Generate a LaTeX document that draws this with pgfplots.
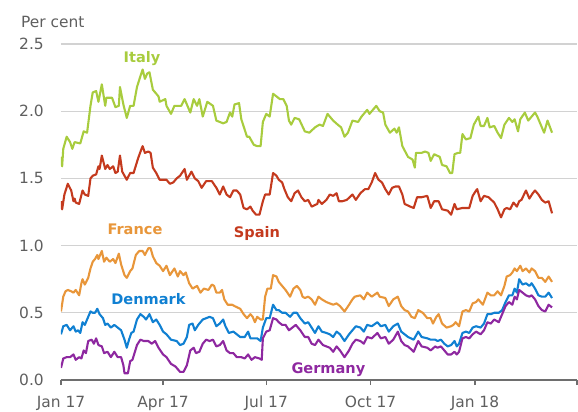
\documentclass[border=0pt]{standalone}
\usepackage{pgfplots}
\pgfplotsset{compat=1.18}
\usepackage{fontspec}
\setmainfont{DejaVu Sans}
\definecolor{italy}{RGB}{168,204,62}
\definecolor{spain}{RGB}{196,58,30}
\definecolor{france}{RGB}{232,150,58}
\definecolor{denmark}{RGB}{16,128,210}
\definecolor{germany}{RGB}{142,40,160}
\definecolor{tickgrey}{RGB}{95,95,95}
\definecolor{axisgrey}{RGB}{110,110,110}
\definecolor{gridgrey}{RGB}{210,210,210}
\begin{document}
\begin{tikzpicture}
\begin{axis}[
  at={(0,0)}, anchor=south west,
  scale only axis, width=516bp, height=336bp,
  xmin=0, xmax=455, ymin=0, ymax=2.5,
  axis lines*=left,
  y axis line style={draw=none},
  x axis line style={draw=axisgrey, line width=1.2bp},
  xtick={0,90,181,273,365,455},
  xticklabels={Jan 17,Apr 17,Jul 17,Oct 17,Jan 18,{}},
  xtick align=outside,
  major tick length=5bp,
  xtick style={draw=axisgrey, line width=1.2bp},
  ytick={0,0.5,1,1.5,2,2.5},
  ytick style={draw=none},
  ymajorgrids,
  grid style={draw=gridgrey, line width=1.1bp},
  /pgf/number format/assume math mode=true,
  yticklabel style={/pgf/number format/fixed,/pgf/number format/fixed zerofill,/pgf/number format/precision=1, anchor=east, inner sep=0pt, xshift=-17bp, font=\fontsize{15.5}{18}\selectfont, text=tickgrey},
  xticklabel style={anchor=base, inner sep=0pt, yshift=-22bp, font=\fontsize{15.5}{18}\selectfont, text=tickgrey},
  every axis plot/.append style={line width=2.1bp, line join=round},
]
% Italy
\addplot[italy, no markers] coordinates {(0,1.66)(1,1.59)(2,1.72)(5,1.81)(8,1.77)(10,1.72)(12,1.77)(17,1.76)(20,1.85)(23,1.84)(26,2.04)(28,2.14)(31,2.15)(33,2.07)(36,2.20)(39,2.04)(40,2.10)(45,2.10)(48,2.03)(51,2.04)(52,2.18)(55,2.05)(58,1.95)(61,2.04)(64,2.04)(67,2.18)(70,2.26)(72,2.31)(74,2.24)(76,2.28)(78,2.29)(81,2.16)(86,2.11)(87,2.07)(92,2.09)(93,2.04)(97,1.98)(100,2.04)(106,2.04)(109,2.09)(114,1.99)(117,2.09)(120,2.04)(122,2.09)(125,1.96)(129,2.07)(134,2.04)(137,1.93)(143,1.91)(146,1.92)(149,1.99)(151,1.96)(153,2.05)(157,2.06)(159,1.94)(164,1.81)(166,1.81)(170,1.75)(173,1.74)(176,1.74)(178,1.92)(181,1.98)(184,1.96)(187,2.13)(190,2.11)(193,2.09)(196,2.09)(199,2.04)(201,1.93)(203,1.90)(206,1.95)(210,1.94)(215,1.85)(219,1.84)(224,1.88)(228,1.90)(231,1.89)(235,1.98)(240,1.93)(244,1.90)(247,1.88)(250,1.81)(253,1.84)(257,1.93)(262,1.92)(265,1.96)(270,2.01)(272,1.98)(278,2.04)(281,2.00)(284,1.99)(286,1.90)(290,1.84)(294,1.87)(296,1.84)(298,1.88)(301,1.74)(306,1.66)(310,1.64)(312,1.58)(313,1.69)(318,1.69)(321,1.70)(324,1.69)(326,1.63)(329,1.68)(334,1.66)(336,1.60)(340,1.59)(343,1.54)(345,1.54)(347,1.68)(350,1.69)(352,1.69)(354,1.83)(357,1.79)(361,1.80)(364,1.90)(368,1.96)(370,1.89)(373,1.89)(376,1.95)(378,1.88)(382,1.89)(385,1.84)(388,1.80)(391,1.90)(395,1.95)(398,1.92)(400,1.94)(403,1.85)(405,1.94)(409,1.99)(412,1.93)(418,1.99)(420,1.96)(426,1.84)(429,1.93)(433,1.84)};
% Spain
\addplot[spain, no markers] coordinates {(0,1.33)(1,1.27)(3,1.38)(6,1.46)(9,1.41)(11,1.33)(12,1.35)(13,1.32)(16,1.31)(19,1.41)(21,1.38)(24,1.37)(26,1.50)(28,1.52)(31,1.53)(33,1.59)(34,1.57)(36,1.67)(39,1.57)(41,1.60)(43,1.57)(46,1.59)(48,1.54)(50,1.55)(52,1.67)(54,1.55)(58,1.49)(61,1.54)(64,1.54)(68,1.65)(71,1.72)(72,1.74)(74,1.69)(77,1.70)(79,1.69)(81,1.58)(84,1.54)(87,1.49)(90,1.49)(93,1.49)(96,1.46)(99,1.47)(102,1.50)(105,1.52)(109,1.57)(111,1.49)(115,1.55)(118,1.50)(121,1.48)(124,1.43)(128,1.48)(133,1.48)(137,1.43)(140,1.38)(143,1.44)(146,1.38)(149,1.36)(152,1.41)(155,1.41)(158,1.38)(161,1.28)(164,1.27)(167,1.29)(169,1.26)(172,1.23)(175,1.23)(178,1.33)(180,1.38)(184,1.38)(187,1.54)(190,1.52)(192,1.49)(195,1.47)(197,1.42)(200,1.36)(203,1.33)(206,1.39)(209,1.41)(212,1.36)(215,1.33)(218,1.34)(221,1.29)(226,1.31)(227,1.34)(230,1.31)(234,1.34)(237,1.38)(240,1.37)(243,1.39)(245,1.33)(248,1.33)(252,1.34)(257,1.38)(260,1.34)(264,1.39)(268,1.42)(271,1.42)(274,1.47)(277,1.54)(280,1.49)(283,1.47)(286,1.42)(289,1.38)(292,1.43)(295,1.44)(298,1.44)(301,1.38)(303,1.31)(308,1.29)(311,1.28)(314,1.36)(318,1.36)(323,1.37)(326,1.28)(329,1.33)(333,1.33)(336,1.27)(341,1.26)(344,1.23)(347,1.31)(349,1.27)(354,1.28)(360,1.28)(363,1.37)(366,1.41)(367,1.42)(370,1.33)(373,1.37)(377,1.36)(382,1.32)(385,1.27)(388,1.21)(391,1.27)(393,1.28)(396,1.27)(399,1.32)(402,1.29)(404,1.33)(406,1.34)(410,1.41)(413,1.35)(416,1.39)(418,1.41)(421,1.38)(424,1.34)(427,1.32)(430,1.33)(433,1.24)};
% France
\addplot[france, no markers] coordinates {(0,0.51)(2,0.62)(4,0.66)(6,0.67)(9,0.66)(11,0.65)(13,0.67)(16,0.63)(18,0.72)(19,0.75)(21,0.71)(24,0.76)(26,0.83)(28,0.88)(30,0.90)(32,0.93)(33,0.90)(36,0.96)(38,0.88)(40,0.91)(43,0.88)(46,0.90)(48,0.87)(51,0.94)(53,0.86)(56,0.78)(58,0.76)(61,0.81)(63,0.83)(66,0.93)(69,0.96)(72,0.96)(74,0.93)(77,0.98)(79,0.98)(81,0.92)(84,0.87)(87,0.85)(90,0.81)(93,0.85)(96,0.78)(100,0.83)(103,0.77)(105,0.81)(108,0.78)(110,0.80)(113,0.72)(116,0.68)(120,0.70)(123,0.65)(126,0.68)(130,0.67)(133,0.71)(135,0.70)(137,0.65)(140,0.65)(142,0.67)(144,0.60)(147,0.56)(151,0.56)(153,0.55)(158,0.53)(161,0.49)(164,0.46)(167,0.49)(169,0.47)(171,0.43)(173,0.47)(176,0.45)(178,0.45)(180,0.62)(182,0.68)(185,0.68)(187,0.78)(190,0.77)(192,0.73)(195,0.70)(198,0.67)(202,0.62)(205,0.68)(208,0.70)(211,0.67)(213,0.62)(215,0.61)(218,0.62)(221,0.60)(224,0.56)(227,0.62)(230,0.60)(234,0.58)(237,0.57)(240,0.56)(243,0.57)(246,0.55)(250,0.51)(254,0.56)(257,0.60)(259,0.62)(264,0.63)(267,0.60)(270,0.65)(274,0.62)(279,0.65)(281,0.62)(286,0.61)(289,0.55)(293,0.60)(297,0.62)(300,0.55)(303,0.52)(306,0.51)(309,0.47)(312,0.46)(315,0.52)(319,0.50)(323,0.46)(326,0.46)(328,0.42)(331,0.47)(333,0.49)(336,0.42)(340,0.39)(344,0.40)(346,0.41)(348,0.43)(351,0.40)(354,0.51)(357,0.52)(360,0.51)(363,0.57)(366,0.58)(368,0.60)(372,0.56)(376,0.65)(379,0.63)(382,0.63)(385,0.66)(388,0.63)(391,0.70)(393,0.77)(396,0.78)(398,0.80)(400,0.83)(402,0.81)(405,0.85)(407,0.81)(410,0.83)(413,0.80)(415,0.83)(418,0.81)(421,0.76)(424,0.76)(427,0.73)(430,0.77)(433,0.73)};
% Denmark
\addplot[denmark, no markers] coordinates {(0,0.34)(2,0.40)(5,0.41)(8,0.37)(11,0.40)(13,0.36)(15,0.37)(17,0.35)(19,0.43)(21,0.41)(24,0.47)(26,0.51)(28,0.50)(30,0.50)(32,0.53)(34,0.49)(37,0.46)(39,0.41)(41,0.42)(44,0.39)(47,0.41)(50,0.39)(53,0.37)(56,0.30)(58,0.24)(60,0.30)(62,0.35)(64,0.36)(67,0.45)(70,0.49)(73,0.47)(75,0.45)(78,0.49)(81,0.43)(84,0.45)(87,0.41)(90,0.36)(93,0.34)(97,0.30)(102,0.29)(105,0.26)(108,0.27)(111,0.32)(113,0.41)(116,0.42)(118,0.37)(121,0.41)(125,0.45)(128,0.46)(131,0.47)(134,0.46)(137,0.40)(140,0.42)(143,0.45)(145,0.40)(148,0.35)(152,0.36)(155,0.34)(158,0.32)(162,0.32)(165,0.36)(167,0.31)(170,0.31)(173,0.31)(176,0.29)(178,0.39)(181,0.46)(184,0.46)(187,0.56)(190,0.52)(192,0.52)(195,0.50)(198,0.50)(202,0.47)(205,0.50)(208,0.50)(211,0.46)(215,0.42)(218,0.43)(221,0.39)(224,0.35)(227,0.40)(230,0.36)(234,0.35)(237,0.34)(240,0.32)(243,0.36)(246,0.34)(250,0.29)(254,0.34)(257,0.37)(260,0.40)(264,0.39)(267,0.36)(270,0.41)(274,0.40)(279,0.43)(282,0.40)(286,0.41)(289,0.36)(293,0.40)(297,0.42)(300,0.36)(303,0.34)(306,0.32)(311,0.30)(315,0.36)(318,0.32)(323,0.31)(326,0.30)(330,0.30)(332,0.29)(335,0.30)(338,0.27)(341,0.25)(344,0.26)(347,0.29)(349,0.25)(351,0.27)(354,0.35)(357,0.36)(360,0.35)(363,0.39)(366,0.40)(370,0.39)(373,0.42)(376,0.49)(379,0.49)(382,0.50)(386,0.50)(389,0.52)(392,0.58)(395,0.63)(398,0.63)(400,0.68)(402,0.65)(404,0.75)(407,0.71)(410,0.72)(413,0.70)(415,0.72)(418,0.68)(421,0.63)(424,0.62)(427,0.62)(430,0.65)(433,0.61)};
% Germany
\addplot[germany, no markers] coordinates {(0,0.09)(2,0.16)(5,0.17)(8,0.17)(11,0.19)(13,0.15)(16,0.17)(18,0.16)(20,0.22)(22,0.20)(24,0.29)(27,0.30)(29,0.27)(31,0.31)(33,0.26)(36,0.25)(38,0.20)(41,0.21)(44,0.17)(47,0.21)(50,0.17)(53,0.17)(55,0.11)(56,0.05)(59,0.05)(61,0.14)(63,0.15)(67,0.26)(70,0.30)(73,0.29)(77,0.29)(80,0.27)(83,0.29)(86,0.24)(90,0.19)(93,0.17)(97,0.12)(101,0.10)(104,0.07)(105,0.06)(108,0.06)(111,0.11)(114,0.22)(117,0.24)(119,0.20)(122,0.21)(125,0.27)(128,0.30)(131,0.29)(134,0.30)(137,0.25)(140,0.26)(143,0.29)(146,0.22)(149,0.20)(152,0.20)(155,0.17)(159,0.17)(162,0.16)(165,0.19)(168,0.15)(171,0.17)(175,0.16)(177,0.15)(178,0.31)(181,0.36)(184,0.37)(187,0.46)(190,0.45)(192,0.43)(195,0.41)(198,0.41)(201,0.37)(204,0.39)(207,0.41)(211,0.37)(215,0.32)(218,0.32)(221,0.27)(224,0.26)(227,0.30)(231,0.26)(234,0.25)(237,0.24)(240,0.21)(243,0.25)(246,0.22)(250,0.17)(254,0.22)(257,0.27)(260,0.30)(264,0.29)(267,0.27)(270,0.32)(274,0.31)(279,0.35)(282,0.31)(286,0.32)(289,0.27)(293,0.30)(297,0.36)(300,0.29)(303,0.26)(306,0.25)(311,0.21)(315,0.29)(318,0.25)(323,0.24)(326,0.22)(330,0.25)(332,0.24)(335,0.25)(338,0.22)(341,0.19)(344,0.19)(347,0.21)(349,0.19)(351,0.21)(354,0.31)(357,0.32)(360,0.31)(363,0.34)(366,0.36)(370,0.34)(373,0.37)(376,0.43)(379,0.42)(382,0.45)(386,0.43)(389,0.49)(392,0.55)(395,0.58)(398,0.56)(400,0.62)(402,0.60)(404,0.67)(407,0.65)(410,0.63)(413,0.62)(415,0.63)(418,0.60)(421,0.55)(424,0.52)(427,0.51)(430,0.56)(433,0.54)};
% series labels
\begin{scope}[every node/.style={anchor=base, inner sep=0pt, font=\fontsize{14.6}{17}\selectfont\bfseries}]
\node[text=italy] at (axis cs:71.4,2.36) {Italy};
\node[text=spain] at (axis cs:172.8,1.06) {Spain};
\node[text=france] at (axis cs:65.2,1.08) {France};
\node[text=denmark] at (axis cs:77.1,0.56) {Denmark};
\node[text=germany] at (axis cs:235.8,0.05) {Germany};
\end{scope}
\end{axis}
\node[anchor=base west, inner sep=0pt, text=tickgrey, font=\fontsize{15.5}{18}\selectfont] at (-40bp,352.7bp) {Per cent};
\pgfresetboundingbox
\path (-61bp,-32bp) rectangle (517bp,380bp);
\end{tikzpicture}
\end{document}
